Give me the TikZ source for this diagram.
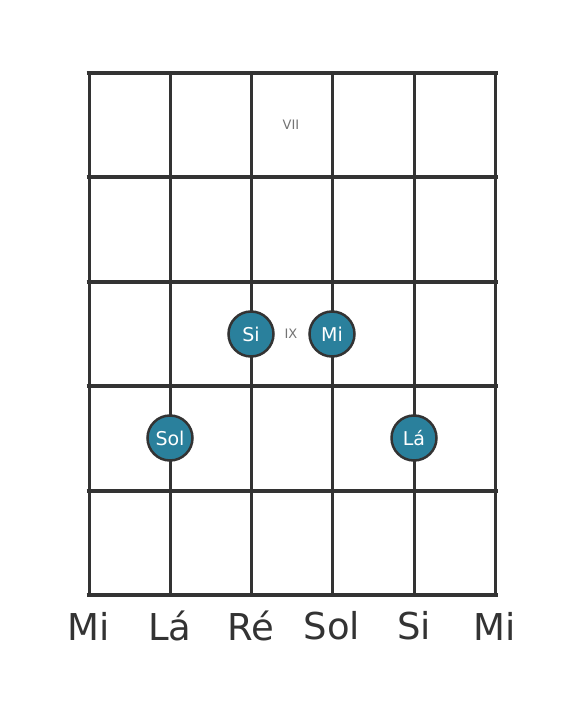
\documentclass[tikz,border=0pt]{standalone}
\usepackage{fontspec}
\setmainfont{DejaVu Sans}
\usetikzlibrary{positioning}

\begin{document}
\begin{tikzpicture}[x=1pt,y=-1pt,line width=3pt,
  note/.style={circle,draw=black!80,fill={rgb,255:red,42;green,128;blue,156},line width=2.5pt,minimum size=45pt,inner sep=0pt,text=white,font=\fontsize{19}{19}\selectfont},
  fretnum/.style={text=black!55,font=\fontsize{13}{13}\selectfont},
  stringname/.style={text=black!80,font=\fontsize{37}{37}\selectfont}]
  \useasboundingbox (0,0) rectangle (584,711);
  \foreach \x in {89,170,251,332,414,495}
    \draw[black!80] (\x,73) -- (\x,595);
  \foreach \y in {73,177,282,386,491,595}
    \draw[black!80,line width=4.5pt] (86.5,\y) -- (497.5,\y);

  \node[fretnum] (F7) at (291,125) {VII};
  \node[fretnum] (F9) at (291,334) {IX};

  \node[note] (Si)  at (251,334) {Si};
  \node[note] (Mi)  at (332,334) {Mi};
  \node[note] (Sol) at (170,438) {Sol};
  \node[note] (La)  at (414,438) {Lá};

  \node[stringname] (S1) at (89,626)  {Mi};
  \node[stringname] (S2) at (170,626) {Lá};
  \node[stringname] (S3) at (251,626) {Ré};
  \node[stringname] (S4) at (332,626) {Sol};
  \node[stringname] (S5) at (414,626) {Si};
  \node[stringname] (S6) at (495,626) {Mi};
\end{tikzpicture}
\end{document}
